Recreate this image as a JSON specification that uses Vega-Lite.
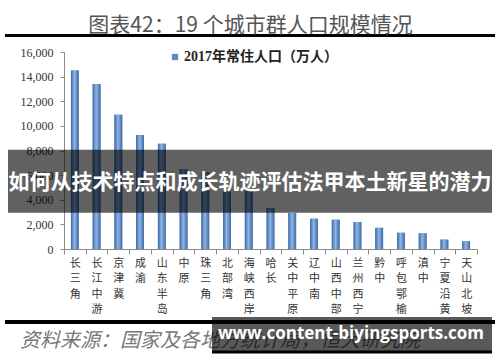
{
  "$schema": "https://vega.github.io/schema/vega-lite/v6.json",
  "autosize": {"type": "none"},
  "width": 413,
  "height": 197,
  "padding": {"left": 64, "top": 52, "right": 23, "bottom": 113},
  "background": "white",
  "title": {
    "text": "图表42：19 个城市群人口规模情况",
    "font": "Noto Sans CJK SC",
    "fontSize": 21,
    "fontWeight": "normal",
    "color": "#555555",
    "anchor": "middle",
    "frame": "group",
    "dx": -20,
    "dy": 14,
    "offset": 12
  },
  "config": {
    "view": {"stroke": null},
    "axis": {"grid": false},
    "axisY": {
      "title": null,
      "tickCount": 8,
      "format": ",d",
      "labelFont": "Liberation Serif",
      "labelFontSize": 12,
      "labelColor": "#333333",
      "labelPadding": 7,
      "tickSize": 4,
      "tickColor": "#8a8a8a",
      "domainColor": "#8a8a8a"
    }
  },
  "datasets": {
    "pop": [
      {"name": "长三角", "value": 14500},
      {"name": "长江中游", "value": 13400},
      {"name": "京津冀", "value": 10900},
      {"name": "成渝", "value": 9250},
      {"name": "山东半岛", "value": 8550},
      {"name": "中原", "value": 6500},
      {"name": "珠三角", "value": 6250},
      {"name": "北部湾", "value": 4700},
      {"name": "海峡西岸", "value": 4700},
      {"name": "哈长", "value": 3330},
      {"name": "关中平原", "value": 2920},
      {"name": "辽中南", "value": 2460},
      {"name": "山西中部", "value": 2380},
      {"name": "兰州西宁", "value": 2190},
      {"name": "黔中", "value": 1720},
      {"name": "呼包鄂榆", "value": 1320},
      {"name": "滇中", "value": 1270},
      {"name": "宁夏沿黄", "value": 760},
      {"name": "天山北坡", "value": 620}
    ]
  },
  "layer": [
    {
      "data": {"name": "pop"},
      "mark": {"type": "bar", "width": {"band": 0.36}},
      "encoding": {
        "x": {
          "field": "name",
          "type": "nominal",
          "sort": null,
          "scale": {"paddingInner": 0, "paddingOuter": 0},
          "axis": {
            "title": null,
            "labelAngle": 0,
            "labelExpr": "split(datum.label, '')",
            "labelFont": "Noto Sans CJK SC",
            "labelFontSize": 11,
            "labelColor": "#333333",
            "labelLineHeight": 15.5,
            "labelBaseline": "top",
            "labelPadding": 3,
            "tickBand": "extent",
            "tickSize": 5,
            "tickColor": "#8a8a8a",
            "domainColor": "#8a8a8a"
          }
        },
        "y": {
          "field": "value",
          "type": "quantitative",
          "scale": {"domain": [0, 16000]}
        },
        "color": {
          "datum": "2017年常住人口（万人）",
          "type": "nominal",
          "scale": {"range": ["#5b8bc8"]},
          "legend": {
            "orient": "none",
            "legendX": 104,
            "legendY": -2,
            "title": null,
            "symbolType": "square",
            "symbolSize": 40,
            "symbolStrokeWidth": 0,
            "labelFont": "Liberation Serif, Noto Sans CJK SC",
            "labelFontSize": 14,
            "labelFontWeight": "bold",
            "labelColor": "#222222",
            "labelOffset": 2
          }
        }
      }
    },
    {
      "data": {"name": "pop"},
      "mark": {
        "type": "bar",
        "width": {"band": 0.36},
        "fill": {
          "gradient": "linear",
          "x1": 0, "y1": 0, "x2": 1, "y2": 0,
          "stops": [
            {"offset": 0, "color": "#3b68a3"},
            {"offset": 0.45, "color": "#8fb6e4"},
            {"offset": 1, "color": "#3d6ba8"}
          ]
        }
      },
      "encoding": {
        "x": {"field": "name", "type": "nominal", "sort": null},
        "y": {"field": "value", "type": "quantitative"}
      }
    },
    {
      "data": {"values": [{}]},
      "mark": {"type": "rect", "color": "#000000", "clip": false},
      "encoding": {"x": {"value": -59}, "x2": {"value": 431}, "y": {"value": -18}, "y2": {"value": -15}}
    },
    {
      "data": {"values": [{}]},
      "mark": {"type": "rect", "color": "#000000", "clip": false},
      "encoding": {"x": {"value": -59}, "x2": {"value": 431}, "y": {"value": 268}, "y2": {"value": 272}}
    },
    {
      "data": {"values": [{"t": "资料来源：国家及各地方统计局，恒大研究院"}]},
      "mark": {"type": "text", "align": "left", "baseline": "alphabetic", "font": "Noto Sans CJK SC", "fontSize": 20, "fontStyle": "italic", "color": "#777777"},
      "encoding": {"text": {"field": "t"}, "x": {"value": -44}, "y": {"value": 295}}
    },
    {
      "data": {"values": [{}]},
      "mark": {"type": "rect", "color": "#000000", "opacity": 0.62},
      "encoding": {"x": {"value": -56}, "x2": {"value": 428}, "y": {"datum": 8066}, "y2": {"datum": 2950}}
    },
    {
      "data": {"values": [{"t": "如何从技术特点和成长轨迹评估法甲本土新星的潜力"}]},
      "mark": {"type": "text", "align": "center", "baseline": "middle", "font": "Noto Sans CJK SC", "fontSize": 21, "fontWeight": "bold", "color": "#ffffff"},
      "encoding": {"text": {"field": "t"}, "x": {"value": 186}, "y": {"datum": 5400}}
    },
    {
      "data": {"values": [{}]},
      "mark": {"type": "rect", "color": "#000000", "clip": false},
      "encoding": {"x": {"value": 148}, "x2": {"value": 428}, "y": {"value": 298.5}, "y2": {"value": 301.5}}
    },
    {
      "data": {"values": [{}]},
      "mark": {"type": "rect", "color": "#000000", "opacity": 0.65},
      "encoding": {"x": {"value": 148}, "x2": {"value": 428}, "y": {"value": 265}, "y2": {"value": 299}}
    },
    {
      "data": {"values": [{"t": "www.content-biyingsports.com"}]},
      "mark": {"type": "text", "align": "center", "baseline": "middle", "font": "Open Sans", "fontSize": 17, "fontWeight": "bold", "color": "#ffffff"},
      "encoding": {"text": {"field": "t"}, "x": {"value": 287}, "y": {"value": 282}}
    }
  ]
}
